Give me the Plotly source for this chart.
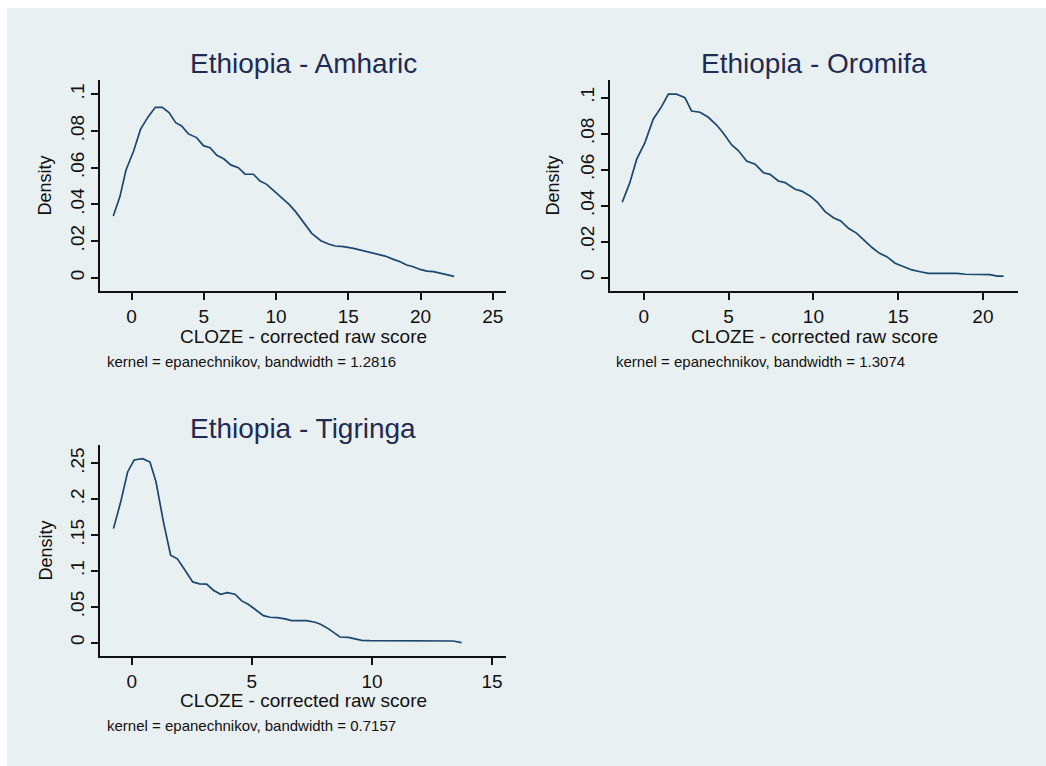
import plotly.graph_objects as go

# Kernel density estimates of the CLOZE corrected raw score, by language
amharic_x = [-1.27, -0.81, -0.39, 0.12, 0.62, 1.15, 1.64, 2.12, 2.59, 3.05, 3.46, 3.93,
             4.50, 4.97, 5.43, 5.90, 6.40, 6.86, 7.39, 7.85, 8.43, 8.89, 9.35, 9.93,
             10.46, 10.92, 11.39, 11.89, 12.47, 13.10, 13.63, 14.09, 14.67, 15.36,
             16.05, 16.74, 17.55, 18.13, 18.59, 19.05, 19.50, 19.97, 20.44, 20.90,
             21.59, 22.33]
amharic_y = [0.0336, 0.0442, 0.0587, 0.0687, 0.0810, 0.0878, 0.0929, 0.0929, 0.0900,
             0.0845, 0.0827, 0.0784, 0.0764, 0.0720, 0.0709, 0.0667, 0.0647, 0.0615,
             0.0600, 0.0565, 0.0564, 0.0527, 0.0509, 0.0469, 0.0433, 0.0398, 0.0356,
             0.0305, 0.0242, 0.0202, 0.0184, 0.0173, 0.0169, 0.0160, 0.0147, 0.0136,
             0.0118, 0.0100, 0.0087, 0.0069, 0.0060, 0.0045, 0.0036, 0.0033, 0.0020,
             0.0007]

oromifa_x = [-1.28, -0.83, -0.43, 0.06, 0.55, 1.04, 1.44, 1.93, 2.42, 2.81, 3.31, 3.80,
             4.29, 4.69, 5.18, 5.57, 6.06, 6.56, 7.05, 7.44, 7.93, 8.33, 8.92, 9.31,
             9.80, 10.24, 10.69, 11.18, 11.61, 12.07, 12.56, 13.05, 13.44, 13.90,
             14.33, 14.82, 15.31, 15.81, 16.30, 16.79, 17.48, 18.46, 18.96, 19.94,
             20.43, 20.83, 21.22]
oromifa_y = [0.0419, 0.0528, 0.0657, 0.0750, 0.0880, 0.0950, 0.1019, 0.1019, 0.1000,
             0.0926, 0.0919, 0.0891, 0.0848, 0.0802, 0.0737, 0.0706, 0.0648, 0.0630,
             0.0583, 0.0574, 0.0537, 0.0528, 0.0491, 0.0481, 0.0454, 0.0419, 0.0367,
             0.0333, 0.0315, 0.0274, 0.0246, 0.0200, 0.0169, 0.0135, 0.0117, 0.0080,
             0.0061, 0.0043, 0.0033, 0.0024, 0.0024, 0.0024, 0.0019, 0.0019, 0.0017,
             0.0009, 0.0009]

tigringa_x = [-0.76, -0.46, -0.17, 0.10, 0.46, 0.76, 1.01, 1.32, 1.62, 1.90, 2.22, 2.54,
              2.82, 3.12, 3.40, 3.70, 3.98, 4.30, 4.58, 4.85, 5.13, 5.48, 5.76, 6.06,
              6.38, 6.66, 7.00, 7.28, 7.63, 7.86, 8.18, 8.39, 8.67, 9.02, 9.29, 9.57,
              9.92, 10.47, 11.17, 12.55, 13.38, 13.73]
tigringa_y = [0.159, 0.196, 0.238, 0.2547, 0.2565, 0.2519, 0.2244, 0.1685, 0.122, 0.1169,
              0.101, 0.0847, 0.0819, 0.0815, 0.0731, 0.0675, 0.0698, 0.0675, 0.0582,
              0.0535, 0.0466, 0.0377, 0.0354, 0.0349, 0.0331, 0.0307, 0.0307, 0.0307,
              0.0284, 0.0256, 0.0196, 0.0149, 0.0079, 0.0074, 0.0056, 0.0033, 0.0028,
              0.0028, 0.0028, 0.0028, 0.0023, 0.0]

panel_titles = ["Ethiopia - Amharic", "Ethiopia - Oromifa", "Ethiopia - Tigringa"]
bandwidths = ["1.2816", "1.3074", "0.7157"]
x_title = "CLOZE - corrected raw score"
y_title = "Density"

amharic_xticks = [0, 5, 10, 15, 20, 25]
oromifa_xticks = [0, 5, 10, 15, 20]
tigringa_xticks = [0, 5, 10, 15]
small_yticks = [0, 0.02, 0.04, 0.06, 0.08, 0.1]
small_ylabels = ["0", ".02", ".04", ".06", ".08", ".1"]
tig_yticks = [0, 0.05, 0.1, 0.15, 0.2, 0.25]
tig_ylabels = ["0", ".05", ".1", ".15", ".2", ".25"]

W, H = 1046, 766
FONT = "Liberation Sans, Arial, sans-serif"
BG = "#e9f0f2"
GRID = "#e9f0f2"
LINE = "#1a476f"
NAVY = "#1f2b52"
INK = "#111111"


def px_x(p):
    return p / W


def px_y(p):
    return 1 - p / H


panels = [
    dict(x=amharic_x, y=amharic_y, xticks=amharic_xticks, yticks=small_yticks,
         ylabels=small_ylabels, xr=[-2.19, 25.92], yr=[-0.00725, 0.1078],
         left=100, right=506, top=80, bottom=291, title_y=63, xt_y=336, note_y=361,
         dens_x=45, note_x=105),
    dict(x=oromifa_x, y=oromifa_y, xticks=oromifa_xticks, yticks=small_yticks,
         ylabels=small_ylabels, xr=[-2.0, 22.07], yr=[-0.0074, 0.1098],
         left=610, right=1018, top=80, bottom=291, title_y=63, xt_y=336, note_y=361,
         dens_x=553, note_x=614),
    dict(x=tigringa_x, y=tigringa_y, xticks=tigringa_xticks, yticks=tig_yticks,
         ylabels=tig_ylabels, xr=[-1.32, 15.58], yr=[-0.0186, 0.2756],
         left=100, right=506, top=445, bottom=656, title_y=428, xt_y=700, note_y=725,
         dens_x=45, note_x=105),
]

fig = go.Figure()
annotations = []
layout_axes = {}

for i, p in enumerate(panels):
    n = "" if i == 0 else str(i + 1)
    fig.add_trace(go.Scatter(
        x=p["x"], y=p["y"], mode="lines",
        line=dict(color=LINE, width=1.7),
        xaxis="x" + n, yaxis="y" + n, showlegend=False, hoverinfo="skip",
    ))
    layout_axes["xaxis" + n] = dict(
        domain=[px_x(p["left"]), px_x(p["right"])],
        range=p["xr"], anchor="y" + n,
        tickmode="array", tickvals=p["xticks"],
        ticktext=[str(t) for t in p["xticks"]],
        ticks="outside", ticklen=7, tickwidth=1.5, tickcolor=INK,
        showline=True, linecolor=INK, linewidth=1.5,
        showgrid=False, zeroline=False,
        tickfont=dict(family=FONT, size=19, color=INK),
    )
    layout_axes["yaxis" + n] = dict(
        domain=[px_y(p["bottom"]), px_y(p["top"])],
        range=p["yr"], anchor="x" + n,
        tickmode="array", tickvals=p["yticks"], ticktext=p["ylabels"],
        tickangle=-90,
        ticks="outside", ticklen=7, tickwidth=1.5, tickcolor=INK,
        showline=True, linecolor=INK, linewidth=1.5,
        showgrid=True, gridcolor=GRID, gridwidth=1.2, zeroline=False,
        tickfont=dict(family=FONT, size=19, color=INK),
    )
    cx = (p["left"] + p["right"]) / 2
    annotations += [
        dict(text=panel_titles[i], x=px_x(cx), y=px_y(p["title_y"]),
             xref="paper", yref="paper", xanchor="center", yanchor="middle",
             showarrow=False, font=dict(family=FONT, size=28, color=NAVY)),
        dict(text=x_title, x=px_x(cx), y=px_y(p["xt_y"]),
             xref="paper", yref="paper", xanchor="center", yanchor="middle",
             showarrow=False, font=dict(family=FONT, size=19, color=INK)),
        dict(text=y_title, x=px_x(p["dens_x"]), y=px_y((p["top"] + p["bottom"]) / 2),
             xref="paper", yref="paper", xanchor="center", yanchor="middle",
             textangle=-90, showarrow=False, font=dict(family=FONT, size=18, color=INK)),
        dict(text="kernel = epanechnikov, bandwidth = " + bandwidths[i],
             x=px_x(p["note_x"]), y=px_y(p["note_y"]),
             xref="paper", yref="paper", xanchor="left", yanchor="middle",
             showarrow=False, font=dict(family=FONT, size=15, color=INK)),
    ]

fig.update_layout(
    width=W, height=H,
    margin=dict(l=0, r=0, t=0, b=0),
    paper_bgcolor="white", plot_bgcolor="white",
    annotations=annotations,
    shapes=[dict(type="rect", xref="paper", yref="paper",
                 x0=px_x(7), x1=1, y0=0, y1=px_y(8),
                 fillcolor=BG, line=dict(width=0), layer="below")],
    **layout_axes,
)

fig.write_html("out.html")
